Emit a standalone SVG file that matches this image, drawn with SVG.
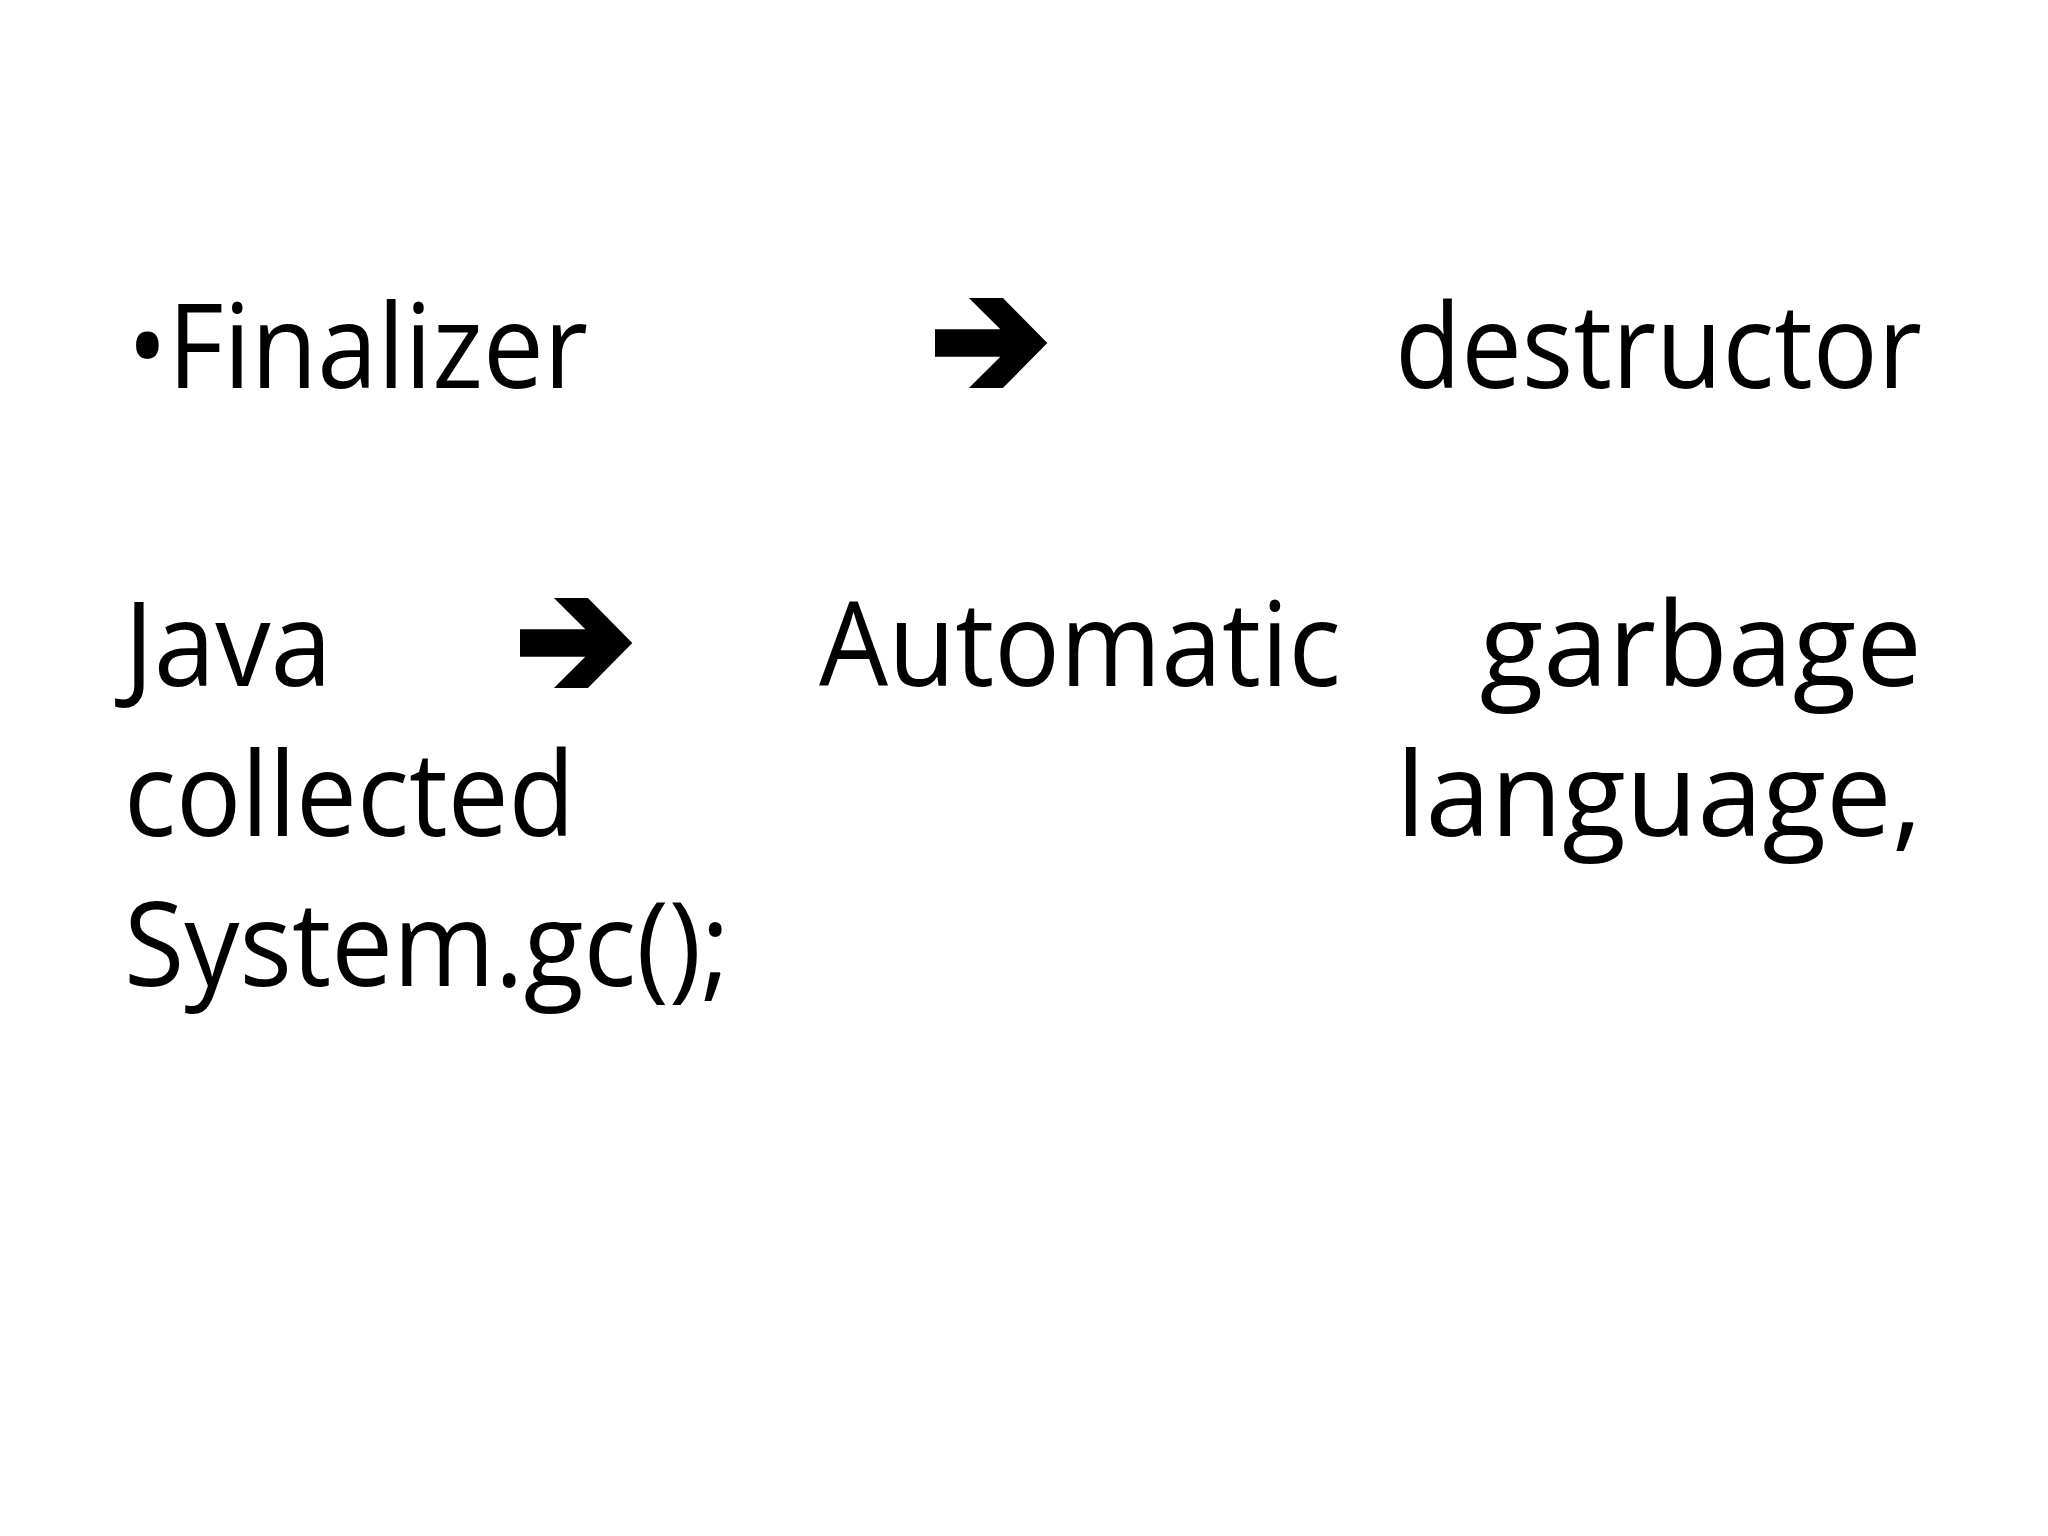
<svg xmlns="http://www.w3.org/2000/svg" width="2048" height="1536" viewBox="0 0 2048 1536">
<style>
text{font-family:"Open Sans","Noto Sans","DejaVu Sans",sans-serif;font-size:117px;fill:#000}
.e{text-anchor:end}
</style>
<defs>
<polygon id="arr" points="0,24 50,24 26,0 52,0 86,34.5 52,69 26,69 50,45 0,45"/>
</defs>
<rect width="2048" height="1536" fill="#fff"/>
<g id="line1">
<text x="127" y="388" textLength="461" lengthAdjust="spacingAndGlyphs">•Finalizer</text>
<use href="#arr" transform="translate(935,298) scale(1.306)"/>
<text x="1395" y="388" textLength="527" lengthAdjust="spacingAndGlyphs">destructor</text>
</g>
<g id="line2">
<text x="124" y="686" textLength="208" lengthAdjust="spacingAndGlyphs">Java</text>
<use href="#arr" transform="translate(520,598) scale(1.306)"/>
<text x="819" y="686" textLength="522" lengthAdjust="spacingAndGlyphs">Automatic</text>
<text x="1922" y="686" class="e">garbage</text>
</g>
<g id="line3">
<text x="124" y="836" textLength="451" lengthAdjust="spacingAndGlyphs">collected</text>
<text x="1922" y="836" class="e">language,</text>
</g>
<g id="line4">
<text x="124" y="986" textLength="606" lengthAdjust="spacingAndGlyphs">System.gc();</text>
</g>
</svg>
